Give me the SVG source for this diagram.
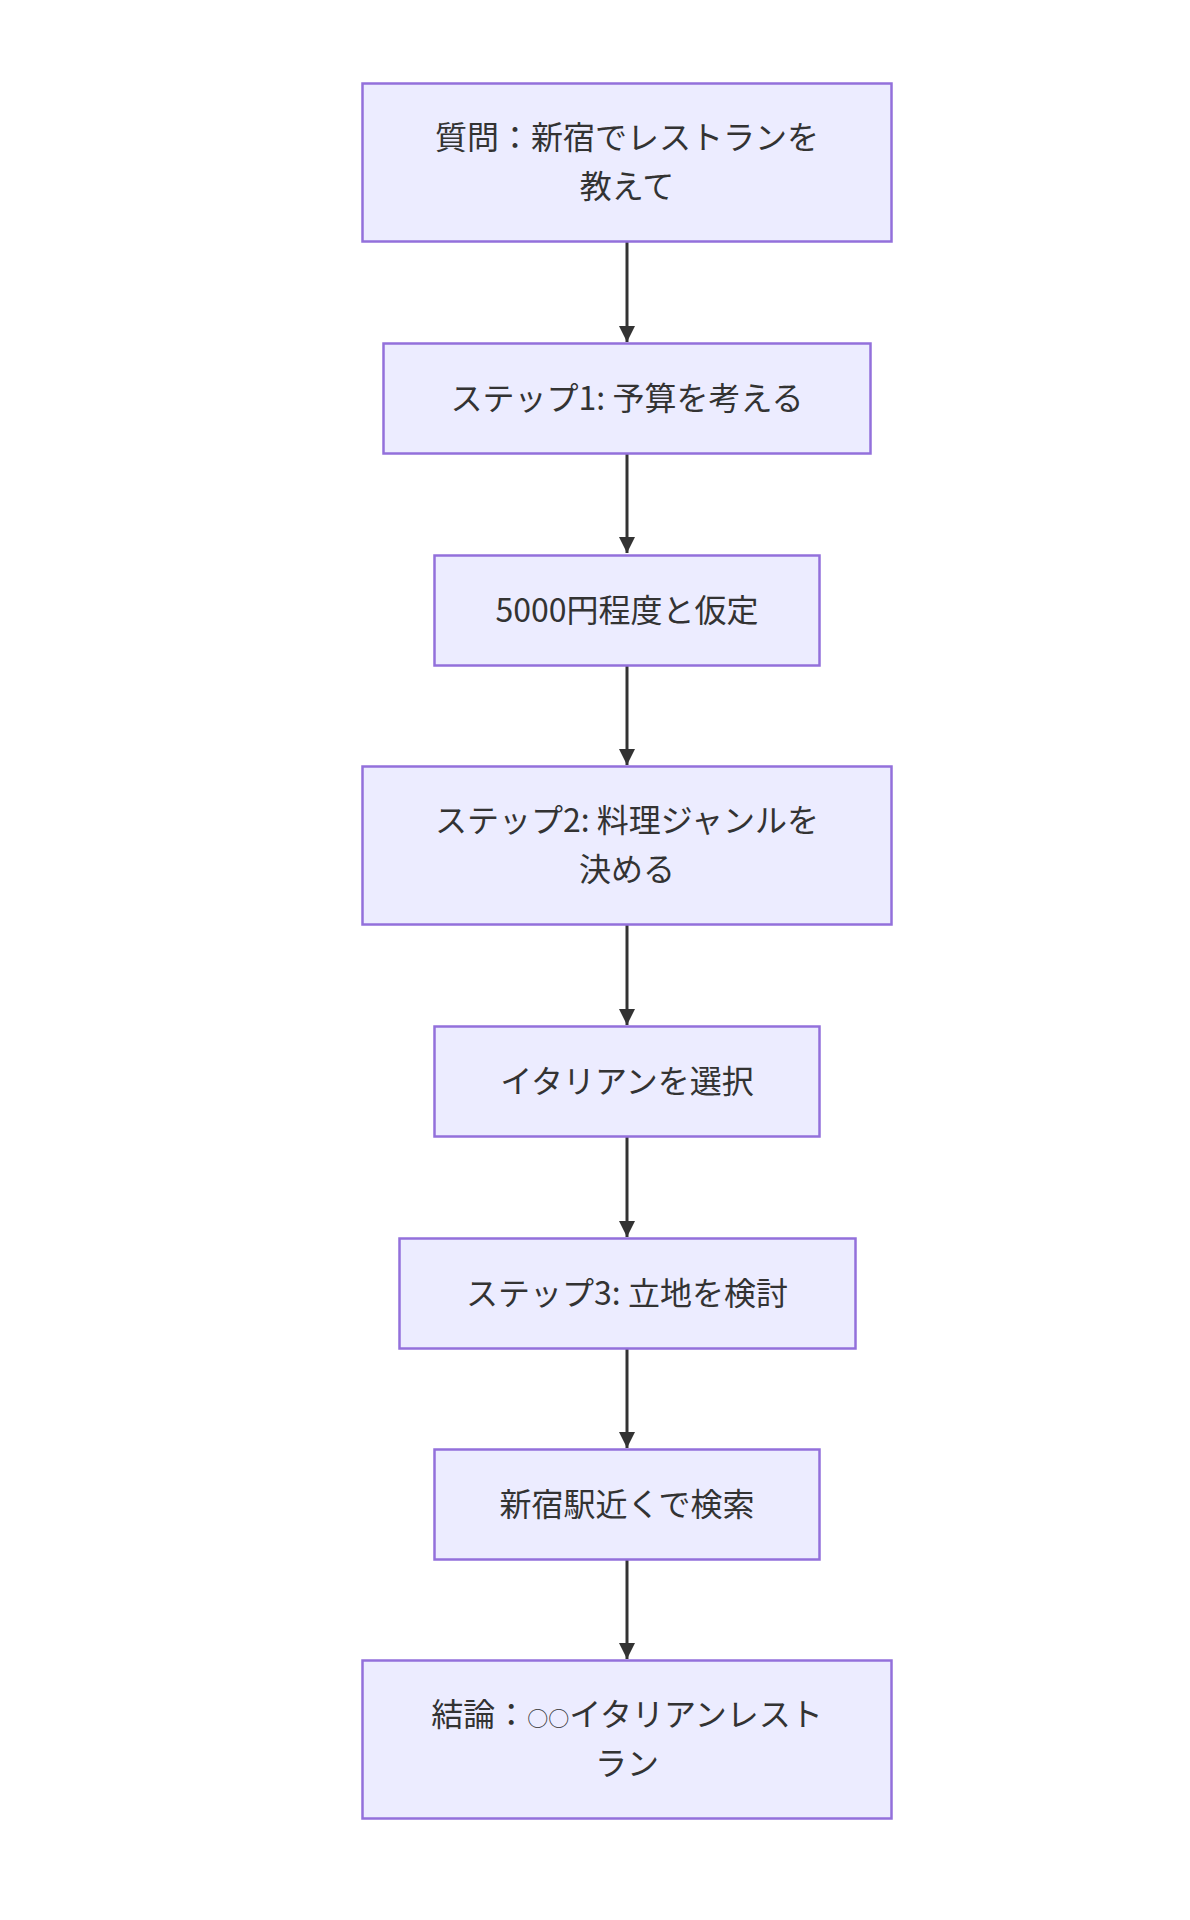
<svg xmlns="http://www.w3.org/2000/svg" width="1190" height="1920" viewBox="0 0 1190 1920">
<style>
.node rect{fill:#ECECFF;stroke:#9370DB;stroke-width:2.5}
.node text{font-family:"Noto Sans CJK JP","Noto Sans",sans-serif;font-size:32px;fill:#333;text-anchor:middle}
.sm{font-size:21px}
.edge{stroke:#333;stroke-width:3;fill:none;marker-end:url(#arr)}
</style>
<defs>
<marker id="arr" viewBox="0 0 10 10" refX="10" refY="5" markerWidth="5.5" markerHeight="5.5" orient="auto" markerUnits="strokeWidth">
<path d="M0,0 L10,5 L0,10 z" fill="#333"/>
</marker>
</defs>
<rect width="1190" height="1920" fill="#fff"/>
<g id="connectors">
<line class="edge" x1="627" y1="242" x2="627" y2="342"/>
<line class="edge" x1="627" y1="454" x2="627" y2="553"/>
<line class="edge" x1="627" y1="666" x2="627" y2="765"/>
<line class="edge" x1="627" y1="925" x2="627" y2="1025"/>
<line class="edge" x1="627" y1="1137" x2="627" y2="1237"/>
<line class="edge" x1="627" y1="1348" x2="627" y2="1448"/>
<line class="edge" x1="627" y1="1560" x2="627" y2="1659"/>
</g>
<g id="n1" class="node"><rect x="362.5" y="83.5" width="529" height="158"/><text x="627" y="149">質問：新宿でレストランを</text><text x="627" y="198">教えて</text></g>
<g id="n2" class="node"><rect x="383.5" y="343.5" width="487" height="110"/><text x="627" y="410">ステップ1: 予算を考える</text></g>
<g id="n3" class="node"><rect x="434.5" y="555.5" width="385" height="110"/><text x="627" y="622">5000円程度と仮定</text></g>
<g id="n4" class="node"><rect x="362.5" y="766.5" width="529" height="158"/><text x="627" y="832">ステップ2: 料理ジャンルを</text><text x="627" y="881">決める</text></g>
<g id="n5" class="node"><rect x="434.5" y="1026.5" width="385" height="110"/><text x="627" y="1093">イタリアンを選択</text></g>
<g id="n6" class="node"><rect x="399.5" y="1238.5" width="456" height="110"/><text x="627" y="1305">ステップ3: 立地を検討</text></g>
<g id="n7" class="node"><rect x="434.5" y="1449.5" width="385" height="110"/><text x="627" y="1516">新宿駅近くで検索</text></g>
<g id="n8" class="node"><rect x="362.5" y="1660.5" width="529" height="158"/><text x="627" y="1726">結論：<tspan class="sm">○○</tspan>イタリアンレスト</text><text x="627" y="1775">ラン</text></g>
</svg>
